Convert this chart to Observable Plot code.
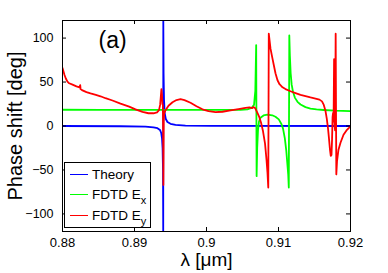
<!DOCTYPE html>
<html>
<head>
<meta charset="utf-8">
<script src="https://cdn.jsdelivr.net/npm/d3@7"></script>
<script src="https://cdn.jsdelivr.net/npm/@observablehq/plot@0.6"></script>
<style>
  body { margin: 0; background: #fff; }
  #wrap { position: relative; width: 388px; height: 273px; font-family: "Liberation Sans", Arial, sans-serif; }
  #legend { position: absolute; left: 64px; top: 162px; width: 87px; height: 66px; border: 1px solid #000; background: #fff; box-sizing: border-box; }
  .row { position: absolute; left: 0; height: 20px; display: flex; align-items: center; font-size: 13.5px; color: #000; }
  .sw { width: 18px; height: 0; border-top: 1.8px solid; margin-left: 5px; margin-right: 4px; }
  sub { font-size: 11px; vertical-align: -5px; line-height: 0; }
</style>
</head>
<body>
<div id="wrap">
  <div id="chart"></div>
  <div id="legend"></div>
</div>
<script>
// Theory
const theoryLambda = [0.88, 0.88806, 0.89153, 0.89264, 0.89319, 0.89354, 0.89371, 0.89382, 0.89390, 0.89396, 0.89399,
  0.89400, 0.89404, 0.89410, 0.89419, 0.89435, 0.89458, 0.89500, 0.89569, 0.89708, 0.90056, 0.92];
const theoryPhase = [0, -0.3, -0.8, -1.5, -2.5, -4.5, -8, -14, -25, -50, -120,
  120, 60, 30, 15, 8, 4.5, 2.5, 1.2, 0.5, 0.2, 0];

// FDTD Ex
const exLambda = [0.88, 0.88528, 0.89222, 0.89917, 0.90472, 0.90569, 0.90625, 0.90660, 0.90678, 0.90690, 0.90696,
  0.90704, 0.90715, 0.90729, 0.90750, 0.90792, 0.90847, 0.90913, 0.90958, 0.91004, 0.91042, 0.91063, 0.91088,
  0.91108, 0.91122, 0.91135, 0.91143, 0.91150, 0.91158, 0.91169, 0.91183, 0.91201, 0.91229, 0.91264, 0.91306,
  0.91375, 0.91444, 0.91528, 0.91625, 0.91792, 0.92];
const exPhase = [18.5, 18.4, 18.3, 18.3, 18.4, 19, 20.5, 24, 40, 92, -57,
  -25, -5, 5, 9.5, 12, 13, 12.2, 10.5, 7.5, 2, -3, -14,
  -28, -42, -55, -70, 103, 80, 60, 47, 39, 32, 27.5, 24.5,
  21.5, 19.8, 18.8, 18.2, 17.4, 16.8];

// FDTD Ey
const eyLambda = [0.88, 0.88014, 0.88028, 0.88046, 0.88069, 0.88093, 0.88139, 0.88194, 0.88236, 0.88246, 0.88251,
  0.88278, 0.88333, 0.88389, 0.88463, 0.88528, 0.88597, 0.88694, 0.88806, 0.88926, 0.89014, 0.89111, 0.89194,
  0.89264, 0.89313, 0.89340, 0.89356, 0.89367, 0.89374, 0.89381, 0.89388, 0.89394, 0.89399, 0.89401, 0.89406,
  0.89411, 0.89431, 0.89472, 0.89528, 0.89583, 0.89639, 0.89694, 0.89778, 0.89861, 0.89944, 0.90028, 0.90125,
  0.90222, 0.90333, 0.90444, 0.90542, 0.90597, 0.90632, 0.90653, 0.90674, 0.90701, 0.90729, 0.90757, 0.90785,
  0.90813, 0.90833, 0.90847, 0.90858, 0.90865, 0.90875, 0.90889, 0.90913, 0.90938, 0.90958, 0.90986, 0.91014,
  0.91056, 0.91097, 0.91167, 0.91236, 0.91306, 0.91375, 0.91444, 0.91514, 0.91569, 0.91604, 0.91629, 0.91653,
  0.91671, 0.91688, 0.91701, 0.91715, 0.91726, 0.91736, 0.91744, 0.91751, 0.91758, 0.91765, 0.91772, 0.91779,
  0.91786, 0.91794, 0.91803, 0.91813, 0.91833, 0.91861, 0.91903, 0.91944, 0.91979, 0.92];
const eyPhase = [66, 62, 58, 54, 50.5, 48.6, 47, 45, 44, 46.5, 42,
  40.5, 38.5, 37, 35.4, 33.8, 31.6, 29, 25.5, 22, 19, 16, 14.5,
  14.5, 15.5, 18, 24, 35, 42, 36, 25, 24, -20, -67, 5,
  14, 18, 23, 27, 29.5, 30.5, 29.5, 26.5, 22.5, 19, 16.8, 15.7,
  16.2, 17.8, 19.2, 20.5, 21.2, 20.3, 21.5, 20.5, 16, 11, 4, -6,
  -20, -38, -53, -70, 105, 98, 88, 78, 68, 60, 52, 47.5,
  44, 42, 39.5, 37.5, 35.5, 34, 32.5, 31.2, 30, 28, 24, 17,
  8, -3, -14, -27, -34, -33, -15, 10, 15, 5, 76, 0,
  -5, 105, -55, -40, -27, -19, -10, -5, -2, 0];

const xTicks = [0.88, 0.89, 0.9, 0.91, 0.92];
const xTickLabels = ["0.88", "0.89", "0.9", "0.91", "0.92"];
const yTicks = [-100, -50, 0, 50, 100];

const seriesNames = ["Theory", "FDTD E<sub>x</sub>", "FDTD E<sub>y</sub>"];
const seriesColors = ["#0000ff", "#00ff00", "#ff0000"];

const toRows = (xs, ys) => xs.map((x, i) => ({x, y: ys[i]}));
const theory = toRows(theoryLambda, theoryPhase);
const ex = toRows(exLambda, exPhase);
const ey = toRows(eyLambda, eyPhase);

const font = "Liberation Sans, Arial, sans-serif";

const chart = Plot.plot({
  width: 388,
  height: 273,
  marginLeft: 62,
  marginRight: 38,
  marginTop: 20,
  marginBottom: 42,
  style: {fontFamily: font, fontSize: "13px", color: "#000", background: "#fff"},
  x: {domain: [0.88, 0.92]},
  y: {domain: [-120, 120]},
  marks: [
    Plot.line(theory, {x: "x", y: "y", stroke: seriesColors[0], strokeWidth: 1.8, clip: true}),
    Plot.line(ex, {x: "x", y: "y", stroke: seriesColors[1], strokeWidth: 1.8, clip: true}),
    Plot.line(ey, {x: "x", y: "y", stroke: seriesColors[2], strokeWidth: 1.8, clip: true}),
    Plot.frame({stroke: "#000", strokeWidth: 1}),
    Plot.tickX(xTicks, {x: d => d, insetTop: 207, stroke: "#000"}),
    Plot.tickX(xTicks, {x: d => d, insetBottom: 207, stroke: "#000"}),
    Plot.tickY(yTicks, {y: d => d, insetRight: 284, stroke: "#000"}),
    Plot.tickY(yTicks, {y: d => d, insetLeft: 284, stroke: "#000"}),
    Plot.axisX(xTicks, {tickSize: 0, tickPadding: 6, fontSize: 13, label: null,
      tickFormat: d => xTickLabels[xTicks.indexOf(d)]}),
    Plot.axisY(yTicks, {tickSize: 0, tickPadding: 9, fontSize: 12.5, label: null}),
    Plot.text(["(a)"], {frameAnchor: "top-left", dx: 36, dy: 11, text: d => d, fontSize: 23, textAnchor: "start", lineAnchor: "top"}),
    Plot.text(["λ [μm]"], {frameAnchor: "bottom", dy: 28, text: d => d, fontSize: 19, textAnchor: "middle", lineAnchor: "middle"}),
    Plot.text(["Phase shift [deg]"], {frameAnchor: "left", dx: -47, text: d => d, fontSize: 20, rotate: -90, textAnchor: "middle", lineAnchor: "middle"})
  ]
});
document.getElementById("chart").appendChild(chart);

const legend = document.getElementById("legend");
const rowTops = [1, 21, 42];
seriesNames.forEach((name, i) => {
  const row = document.createElement("div");
  row.className = "row";
  row.style.top = rowTops[i] + "px";
  row.innerHTML = `<span class="sw" style="border-color:${seriesColors[i]}"></span><span>${name}</span>`;
  legend.appendChild(row);
});
</script>
</body>
</html>
